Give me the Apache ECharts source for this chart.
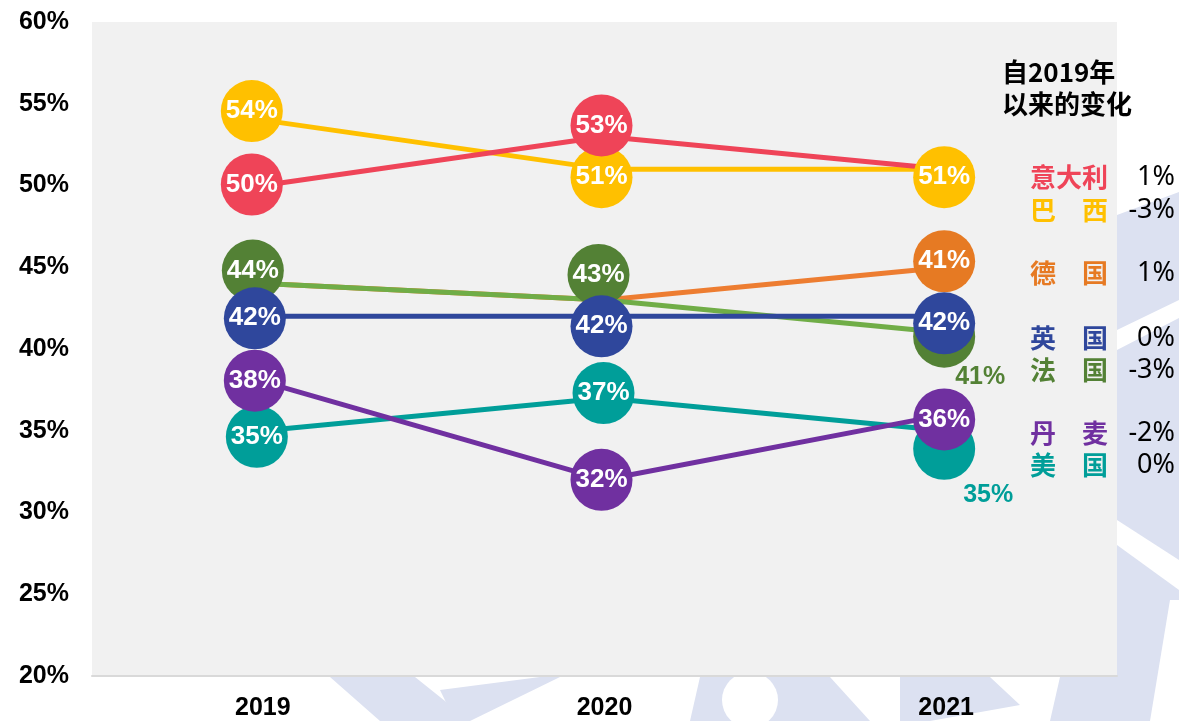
<!DOCTYPE html>
<html><head><meta charset="utf-8">
<script src="https://cdn.jsdelivr.net/npm/echarts@6/dist/echarts.min.js"></script>
<style>html,body{margin:0;padding:0;background:#fff}#c{width:1179px;height:721px}</style>
</head><body><div id="c"></div>
<script>
// ---------- data ----------
const years = ['2019', '2020', '2021'];
const italy   = [50, 53, 51];
const brazil  = [54, 51, 51];
const germany = [44, 43, 45];
const france  = [44, 43, 41];
const uk      = [42, 42, 42];
const denmark = [38, 32, 36];
const usa     = [35, 37, 35];

// bubble texts (null = no bubble)
const italyLabels   = ['50%', '53%', null];
const brazilLabels  = ['54%', '51%', '51%'];
const germanyLabels = [null, null, '41%'];
const franceLabels  = ['44%', '43%', '41%'];
const ukLabels      = ['42%', '42%', '42%'];
const denmarkLabels = ['38%', '32%', '36%'];
const usaLabels     = ['35%', '37%', '35%'];

const legendTitle = ['自2019年', '以来的变化'];
const legendNames = ['意大利', '巴\u3000西', '德\u3000国', '英\u3000国', '法\u3000国', '丹\u3000麦', '美\u3000国'];
const legendChanges = ['1%', '-3%', '1%', '0%', '-3%', '-2%', '0%'];

// ---------- styles / layout ----------
const C = {
  italy: '#EF4458', brazil: '#FFC000', germanyLine: '#ED7D31', germanyDot: '#E67A23',
  franceLine: '#70AD47', franceDot: '#538135', uk: '#2F479C', denmark: '#7030A0', usa: '#009E99'
};
const legendColors = [C.italy, C.brazil, C.germanyDot, C.uk, C.franceDot, C.denmark, C.usa];
const legendY = [177, 210, 273, 338, 370, 433, 465];

// per-bubble pixel nudges (as in the original hand-placed bubbles)
const offs = {
  italy:   [[-11, -1], [-3, -11], [0, 0]],
  brazil:  [[-11, -9], [-3, 8], [-2, 8]],
  germany: [[0, 0], [0, 0], [-2, -6]],
  france:  [[-10, -13], [-6, -25], [-2, 4]],
  uk:      [[-8, 2], [-3, 10], [-2, 7]],
  denmark: [[-8, -1], [-3, 0], [-2, 5]],
  usa:     [[-6, 6], [-1, -5], [-2, 18]]
};
// outside-label placement for hidden/overlapped bubbles
const outside = { france: [2, [36, 40]], usa: [2, [44, 46]] };

const FONT = '"Liberation Sans", Arial, sans-serif';
const CJK = '"Noto Sans CJK SC", sans-serif';

function lineSeries(name, vals, color) {
  return { type: 'line', name, data: vals, z: 2, showSymbol: false, symbol: 'none',
    lineStyle: { color, width: 5 }, itemStyle: { color }, animation: false, silent: true };
}
function bubbleSeries(name, vals, labels, color, offsets, key) {
  const data = vals.map((v, i) => {
    if (labels[i] == null) return { value: [years[i], '-'] };
    const item = { value: [years[i], v], symbolOffset: offsets[i],
      label: { show: true, formatter: labels[i] } };
    if (outside[key] && outside[key][0] === i) {
      item.label = { show: true, formatter: labels[i], color: color, position: 'inside',
        offset: outside[key][1], fontSize: 25 };
    }
    return item;
  });
  return { type: 'scatter', name, data, z: 3, symbol: 'circle', symbolSize: 62,
    itemStyle: { color, opacity: 1 }, animation: false, silent: true,
    label: { show: true, position: 'inside', color: '#fff', fontSize: 26, fontWeight: 'bold',
      fontFamily: FONT } };
}

// ---------- graphics (legend text + faint watermark) ----------
const graphics = [];
const wm = '#DCE1F1';
[
  [[1117, 215], [1179, 192], [1179, 721], [1117, 721]],
  [[330, 677], [415, 677], [470, 721], [380, 721]],
  [[440, 690], [540, 677], [560, 677], [470, 721], [455, 721]],
  [[700, 677], [830, 677], [870, 721], [690, 721]],
  [[900, 677], [990, 677], [1020, 705], [930, 721], [900, 721]],
  [[1060, 677], [1117, 677], [1117, 721], [1050, 721]]
].forEach(p => graphics.push({ type: 'polygon', z: -10, silent: true,
  shape: { points: p }, style: { fill: wm } }));
[
  [[1117, 330], [1179, 300], [1179, 318], [1117, 350]],
  [[1117, 520], [1179, 560], [1179, 590], [1117, 545]],
  [[1150, 721], [1170, 600], [1179, 600], [1179, 721]]
].forEach(p => graphics.push({ type: 'polygon', z: -9, silent: true,
  shape: { points: p }, style: { fill: '#fff' } }));
[[750, 700, 28]].forEach(c => graphics.push({ type: 'circle', z: -9, silent: true,
  shape: { cx: c[0], cy: c[1], r: c[2] }, style: { fill: '#fff' } }));

legendTitle.forEach((t, i) => graphics.push({ type: 'text', z: 10, silent: true,
  style: { text: t, x: 1002, y: 72 + i * 32, fill: '#000',
    font: 'bold 26px ' + CJK, align: 'left', verticalAlign: 'middle',
    textAlign: 'left', textVerticalAlign: 'middle' } }));
legendNames.forEach((t, i) => {
  graphics.push({ type: 'text', z: 10, silent: true,
    style: { text: t, x: 1108, y: legendY[i], fill: legendColors[i],
      font: 'bold 26px ' + CJK, align: 'right', verticalAlign: 'middle',
      textAlign: 'right', textVerticalAlign: 'middle' } });
  graphics.push({ type: 'text', z: 10, silent: true,
    style: { text: legendChanges[i], x: 1175, y: legendY[i], fill: '#000',
      font: '27px "Noto Sans", sans-serif', align: 'right', verticalAlign: 'middle',
      textAlign: 'right', textVerticalAlign: 'middle' } });
});

const chart = echarts.init(document.getElementById('c'), null, { renderer: 'canvas' });
chart.setOption({
  animation: false,
  backgroundColor: 'transparent',
  grid: { left: 92, right: 62, top: 22, bottom: 44, show: true,
    backgroundColor: '#F1F1F1', borderWidth: 0, z: 0 },
  xAxis: { type: 'category', data: years, boundaryGap: true,
    axisLine: { show: true, lineStyle: { color: '#D9D9D9', width: 2 } },
    axisTick: { show: false }, splitLine: { show: false },
    axisLabel: { color: '#000', fontSize: 25, fontWeight: 'bold', fontFamily: FONT, margin: 20 } },
  yAxis: { type: 'value', min: 20, max: 60, interval: 5,
    axisLine: { show: false }, axisTick: { show: false }, splitLine: { show: false },
    axisLabel: { color: '#000', fontSize: 25, fontWeight: 'bold', fontFamily: FONT, margin: 23,
      formatter: '{value}%' } },
  graphic: graphics,
  series: [
    lineSeries('德国', germany, C.germanyLine),
    lineSeries('法国', france, C.franceLine),
    lineSeries('巴西', brazil, C.brazil),
    lineSeries('意大利', italy, C.italy),
    lineSeries('英国', uk, C.uk),
    lineSeries('美国', usa, C.usa),
    lineSeries('丹麦', denmark, C.denmark),
    bubbleSeries('法国', france, franceLabels, C.franceDot, offs.france, 'france'),
    bubbleSeries('德国', germany, germanyLabels, C.germanyDot, offs.germany, 'germany'),
    bubbleSeries('巴西', brazil, brazilLabels, C.brazil, offs.brazil, 'brazil'),
    bubbleSeries('意大利', italy, italyLabels, C.italy, offs.italy, 'italy'),
    bubbleSeries('美国', usa, usaLabels, C.usa, offs.usa, 'usa'),
    bubbleSeries('丹麦', denmark, denmarkLabels, C.denmark, offs.denmark, 'denmark'),
    bubbleSeries('英国', uk, ukLabels, C.uk, offs.uk, 'uk')
  ]
});
</script></body></html>
